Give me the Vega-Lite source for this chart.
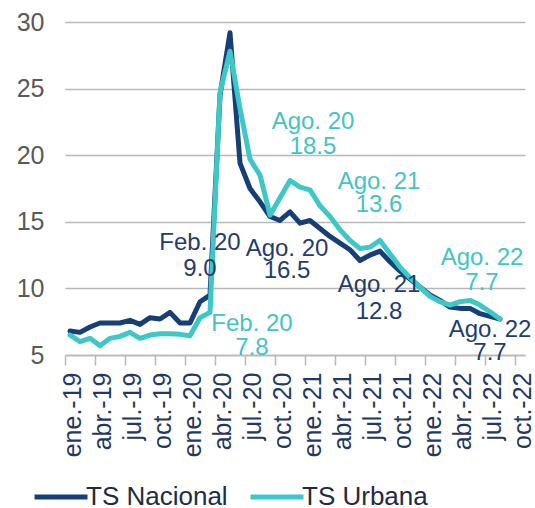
{
  "$schema": "https://vega.github.io/schema/vega-lite/v6.json",
  "width": 460,
  "height": 333,
  "autosize": {"type": "none"},
  "padding": {"left": 65, "top": 22, "right": 10, "bottom": 153},
  "background": "white",
  "config": {"view": {"stroke": null}, "font": "Liberation Sans"},
  "datasets": {
    "serie": [
      {"mes": "ene.-19", "serie": "TS Nacional", "valor": 6.8},
      {"mes": "feb.-19", "serie": "TS Nacional", "valor": 6.7},
      {"mes": "mar.-19", "serie": "TS Nacional", "valor": 7.1},
      {"mes": "abr.-19", "serie": "TS Nacional", "valor": 7.4},
      {"mes": "may.-19", "serie": "TS Nacional", "valor": 7.4},
      {"mes": "jun.-19", "serie": "TS Nacional", "valor": 7.4},
      {"mes": "jul.-19", "serie": "TS Nacional", "valor": 7.6},
      {"mes": "ago.-19", "serie": "TS Nacional", "valor": 7.3},
      {"mes": "sep.-19", "serie": "TS Nacional", "valor": 7.8},
      {"mes": "oct.-19", "serie": "TS Nacional", "valor": 7.7},
      {"mes": "nov.-19", "serie": "TS Nacional", "valor": 8.2},
      {"mes": "dic.-19", "serie": "TS Nacional", "valor": 7.4},
      {"mes": "ene.-20", "serie": "TS Nacional", "valor": 7.4},
      {"mes": "feb.-20", "serie": "TS Nacional", "valor": 9.0},
      {"mes": "mar.-20", "serie": "TS Nacional", "valor": 9.5},
      {"mes": "abr.-20", "serie": "TS Nacional", "valor": 24.5},
      {"mes": "may.-20", "serie": "TS Nacional", "valor": 29.2},
      {"mes": "jun.-20", "serie": "TS Nacional", "valor": 19.4},
      {"mes": "jul.-20", "serie": "TS Nacional", "valor": 17.5},
      {"mes": "ago.-20", "serie": "TS Nacional", "valor": 16.5},
      {"mes": "sep.-20", "serie": "TS Nacional", "valor": 15.4},
      {"mes": "oct.-20", "serie": "TS Nacional", "valor": 15.1},
      {"mes": "nov.-20", "serie": "TS Nacional", "valor": 15.75},
      {"mes": "dic.-20", "serie": "TS Nacional", "valor": 14.9},
      {"mes": "ene.-21", "serie": "TS Nacional", "valor": 15.1},
      {"mes": "feb.-21", "serie": "TS Nacional", "valor": 14.5},
      {"mes": "mar.-21", "serie": "TS Nacional", "valor": 13.9},
      {"mes": "abr.-21", "serie": "TS Nacional", "valor": 13.4},
      {"mes": "may.-21", "serie": "TS Nacional", "valor": 12.9},
      {"mes": "jun.-21", "serie": "TS Nacional", "valor": 12.1},
      {"mes": "jul.-21", "serie": "TS Nacional", "valor": 12.5},
      {"mes": "ago.-21", "serie": "TS Nacional", "valor": 12.8},
      {"mes": "sep.-21", "serie": "TS Nacional", "valor": 12.0},
      {"mes": "oct.-21", "serie": "TS Nacional", "valor": 11.3},
      {"mes": "nov.-21", "serie": "TS Nacional", "valor": 10.7},
      {"mes": "dic.-21", "serie": "TS Nacional", "valor": 10.1},
      {"mes": "ene.-22", "serie": "TS Nacional", "valor": 9.5},
      {"mes": "feb.-22", "serie": "TS Nacional", "valor": 9.1},
      {"mes": "mar.-22", "serie": "TS Nacional", "valor": 8.6},
      {"mes": "abr.-22", "serie": "TS Nacional", "valor": 8.5},
      {"mes": "may.-22", "serie": "TS Nacional", "valor": 8.5},
      {"mes": "jun.-22", "serie": "TS Nacional", "valor": 8.1},
      {"mes": "jul.-22", "serie": "TS Nacional", "valor": 7.9},
      {"mes": "ago.-22", "serie": "TS Nacional", "valor": 7.7},
      {"mes": "ene.-19", "serie": "TS Urbana", "valor": 6.5},
      {"mes": "feb.-19", "serie": "TS Urbana", "valor": 6.0},
      {"mes": "mar.-19", "serie": "TS Urbana", "valor": 6.25},
      {"mes": "abr.-19", "serie": "TS Urbana", "valor": 5.7},
      {"mes": "may.-19", "serie": "TS Urbana", "valor": 6.25},
      {"mes": "jun.-19", "serie": "TS Urbana", "valor": 6.4},
      {"mes": "jul.-19", "serie": "TS Urbana", "valor": 6.7},
      {"mes": "ago.-19", "serie": "TS Urbana", "valor": 6.25},
      {"mes": "sep.-19", "serie": "TS Urbana", "valor": 6.5},
      {"mes": "oct.-19", "serie": "TS Urbana", "valor": 6.6},
      {"mes": "nov.-19", "serie": "TS Urbana", "valor": 6.6},
      {"mes": "dic.-19", "serie": "TS Urbana", "valor": 6.55},
      {"mes": "ene.-20", "serie": "TS Urbana", "valor": 6.45},
      {"mes": "feb.-20", "serie": "TS Urbana", "valor": 7.8},
      {"mes": "mar.-20", "serie": "TS Urbana", "valor": 8.2},
      {"mes": "abr.-20", "serie": "TS Urbana", "valor": 24.7},
      {"mes": "may.-20", "serie": "TS Urbana", "valor": 27.8},
      {"mes": "jun.-20", "serie": "TS Urbana", "valor": 23.5},
      {"mes": "jul.-20", "serie": "TS Urbana", "valor": 19.7},
      {"mes": "ago.-20", "serie": "TS Urbana", "valor": 18.5},
      {"mes": "sep.-20", "serie": "TS Urbana", "valor": 15.5},
      {"mes": "oct.-20", "serie": "TS Urbana", "valor": 16.8},
      {"mes": "nov.-20", "serie": "TS Urbana", "valor": 18.1},
      {"mes": "dic.-20", "serie": "TS Urbana", "valor": 17.6},
      {"mes": "ene.-21", "serie": "TS Urbana", "valor": 17.4},
      {"mes": "feb.-21", "serie": "TS Urbana", "valor": 16.2},
      {"mes": "mar.-21", "serie": "TS Urbana", "valor": 15.4},
      {"mes": "abr.-21", "serie": "TS Urbana", "valor": 14.4},
      {"mes": "may.-21", "serie": "TS Urbana", "valor": 13.6},
      {"mes": "jun.-21", "serie": "TS Urbana", "valor": 13.0},
      {"mes": "jul.-21", "serie": "TS Urbana", "valor": 13.1},
      {"mes": "ago.-21", "serie": "TS Urbana", "valor": 13.6},
      {"mes": "sep.-21", "serie": "TS Urbana", "valor": 12.6},
      {"mes": "oct.-21", "serie": "TS Urbana", "valor": 11.6},
      {"mes": "nov.-21", "serie": "TS Urbana", "valor": 10.8},
      {"mes": "dic.-21", "serie": "TS Urbana", "valor": 10.1},
      {"mes": "ene.-22", "serie": "TS Urbana", "valor": 9.4},
      {"mes": "feb.-22", "serie": "TS Urbana", "valor": 9.0},
      {"mes": "mar.-22", "serie": "TS Urbana", "valor": 8.75},
      {"mes": "abr.-22", "serie": "TS Urbana", "valor": 9.0},
      {"mes": "may.-22", "serie": "TS Urbana", "valor": 9.1},
      {"mes": "jun.-22", "serie": "TS Urbana", "valor": 8.75},
      {"mes": "jul.-22", "serie": "TS Urbana", "valor": 8.25},
      {"mes": "ago.-22", "serie": "TS Urbana", "valor": 7.7}
    ],
    "notas": [
      {"id": "n1", "mes": "feb.-20", "valor": 9.0, "etiqueta": "Feb. 20\n9.0"},
      {"id": "n2", "mes": "feb.-20", "valor": 7.8, "etiqueta": "Feb. 20\n7.8"},
      {"id": "n3", "mes": "ago.-20", "valor": 16.5, "etiqueta": "Ago. 20\n16.5"},
      {"id": "n4", "mes": "ago.-20", "valor": 18.5, "etiqueta": "Ago. 20\n18.5"},
      {"id": "n5", "mes": "ago.-21", "valor": 13.6, "etiqueta": "Ago. 21\n13.6"},
      {"id": "n6", "mes": "ago.-21", "valor": 12.8, "etiqueta": "Ago. 21\n12.8"},
      {"id": "n7", "mes": "ago.-22", "valor": 7.7, "etiqueta": "Ago. 22\n7.7"},
      {"id": "n8", "mes": "ago.-22", "valor": 7.7, "etiqueta": "Ago. 22\n7.7"}
    ]
  },
  "layer": [
    {
      "data": {"name": "serie"},
      "mark": {"type": "line", "strokeWidth": 5, "strokeJoin": "round", "strokeCap": "round"},
      "encoding": {
        "x": {
          "field": "mes",
          "type": "ordinal",
          "scale": {
            "type": "band",
            "paddingInner": 0,
            "paddingOuter": 0,
            "domain": ["ene.-19","feb.-19","mar.-19","abr.-19","may.-19","jun.-19","jul.-19","ago.-19","sep.-19","oct.-19","nov.-19","dic.-19",
                       "ene.-20","feb.-20","mar.-20","abr.-20","may.-20","jun.-20","jul.-20","ago.-20","sep.-20","oct.-20","nov.-20","dic.-20",
                       "ene.-21","feb.-21","mar.-21","abr.-21","may.-21","jun.-21","jul.-21","ago.-21","sep.-21","oct.-21","nov.-21","dic.-21",
                       "ene.-22","feb.-22","mar.-22","abr.-22","may.-22","jun.-22","jul.-22","ago.-22","sep.-22","oct.-22"]
          },
          "axis": {
            "values": ["ene.-19","abr.-19","jul.-19","oct.-19","ene.-20","abr.-20","jul.-20","oct.-20","ene.-21","abr.-21","jul.-21","oct.-21","ene.-22","abr.-22","jul.-22","oct.-22"],
            "bandPosition": 0,
            "title": null,
            "grid": false,
            "labelAngle": 270,
            "labelAlign": "right",
            "labelBaseline": "middle",
            "labelOffset": 3,
            "labelPadding": 7,
            "labelFontSize": 25,
            "labelColor": "#1f3864",
            "labelFont": "Liberation Sans",
            "tickSize": 10,
            "tickWidth": 1.5,
            "tickColor": "#b8b8b8",
            "domainColor": "#b8b8b8",
            "domainWidth": 1.5
          }
        },
        "y": {
          "field": "valor",
          "type": "quantitative",
          "scale": {"domain": [5, 30], "nice": false, "zero": false},
          "axis": {
            "values": [5, 10, 15, 20, 25, 30],
            "title": null,
            "domain": false,
            "ticks": false,
            "labelFontSize": 25,
            "labelColor": "#595959",
            "labelFont": "Liberation Sans",
            "labelPadding": 21,
            "gridColor": "#b8b8b8",
            "gridWidth": 1.5
          }
        },
        "color": {
          "field": "serie",
          "type": "nominal",
          "scale": {"domain": ["TS Nacional", "TS Urbana"], "range": ["#163f77", "#3dc7c7"]},
          "legend": {
            "orient": "none",
            "legendX": -33,
            "legendY": 446,
            "direction": "horizontal",
            "title": null,
            "symbolType": "stroke",
            "symbolSize": 2809,
            "symbolStrokeWidth": 5,
            "labelFontSize": 26,
            "labelFont": "Liberation Sans",
            "labelColor": "#1e2b48",
            "labelOffset": -4,
            "labelLimit": 400,
            "columnPadding": 12,
            "padding": 0,
            "offset": 0
          }
        }
      }
    },
    {
      "data": {"name": "notas"},
      "transform": [{"filter": "datum.id == 'n1'"}],
      "mark": {"type": "text", "dx": 0, "dy": -58.25, "lineHeight": 25.5, "fontSize": 24, "align": "center", "baseline": "middle", "lineBreak": "\n", "color": "#1f3d6e"},
      "encoding": {"x": {"field": "mes", "type": "ordinal"}, "y": {"field": "valor", "type": "quantitative"}, "text": {"field": "etiqueta"}}
    },
    {
      "data": {"name": "notas"},
      "transform": [{"filter": "datum.id == 'n2'"}],
      "mark": {"type": "text", "dx": 52, "dy": 6.25, "lineHeight": 24.5, "fontSize": 24, "align": "center", "baseline": "middle", "lineBreak": "\n", "color": "#45c3c3"},
      "encoding": {"x": {"field": "mes", "type": "ordinal"}, "y": {"field": "valor", "type": "quantitative"}, "text": {"field": "etiqueta"}}
    },
    {
      "data": {"name": "notas"},
      "transform": [{"filter": "datum.id == 'n3'"}],
      "mark": {"type": "text", "dx": 27, "dy": 47.15, "lineHeight": 22.5, "fontSize": 24, "align": "center", "baseline": "middle", "lineBreak": "\n", "color": "#1f3d6e"},
      "encoding": {"x": {"field": "mes", "type": "ordinal"}, "y": {"field": "valor", "type": "quantitative"}, "text": {"field": "etiqueta"}}
    },
    {
      "data": {"name": "notas"},
      "transform": [{"filter": "datum.id == 'n4'"}],
      "mark": {"type": "text", "dx": 53, "dy": -52.8, "lineHeight": 25, "fontSize": 24, "align": "center", "baseline": "middle", "lineBreak": "\n", "color": "#45c3c3"},
      "encoding": {"x": {"field": "mes", "type": "ordinal"}, "y": {"field": "valor", "type": "quantitative"}, "text": {"field": "etiqueta"}}
    },
    {
      "data": {"name": "notas"},
      "transform": [{"filter": "datum.id == 'n5'"}],
      "mark": {"type": "text", "dx": -1, "dy": -58, "lineHeight": 23, "fontSize": 24, "align": "center", "baseline": "middle", "lineBreak": "\n", "color": "#45c3c3"},
      "encoding": {"x": {"field": "mes", "type": "ordinal"}, "y": {"field": "valor", "type": "quantitative"}, "text": {"field": "etiqueta"}}
    },
    {
      "data": {"name": "notas"},
      "transform": [{"filter": "datum.id == 'n6'"}],
      "mark": {"type": "text", "dx": -1, "dy": 34.3, "lineHeight": 27, "fontSize": 24, "align": "center", "baseline": "middle", "lineBreak": "\n", "color": "#1f3d6e"},
      "encoding": {"x": {"field": "mes", "type": "ordinal"}, "y": {"field": "valor", "type": "quantitative"}, "text": {"field": "etiqueta"}}
    },
    {
      "data": {"name": "notas"},
      "transform": [{"filter": "datum.id == 'n7'"}],
      "mark": {"type": "text", "dx": -18, "dy": -61.1, "lineHeight": 25, "fontSize": 24, "align": "center", "baseline": "middle", "lineBreak": "\n", "color": "#45c3c3"},
      "encoding": {"x": {"field": "mes", "type": "ordinal"}, "y": {"field": "valor", "type": "quantitative"}, "text": {"field": "etiqueta"}}
    },
    {
      "data": {"name": "notas"},
      "transform": [{"filter": "datum.id == 'n8'"}],
      "mark": {"type": "text", "dx": -10, "dy": 10.9, "lineHeight": 23, "fontSize": 24, "align": "center", "baseline": "middle", "lineBreak": "\n", "color": "#1f3d6e"},
      "encoding": {"x": {"field": "mes", "type": "ordinal"}, "y": {"field": "valor", "type": "quantitative"}, "text": {"field": "etiqueta"}}
    }
  ]
}
